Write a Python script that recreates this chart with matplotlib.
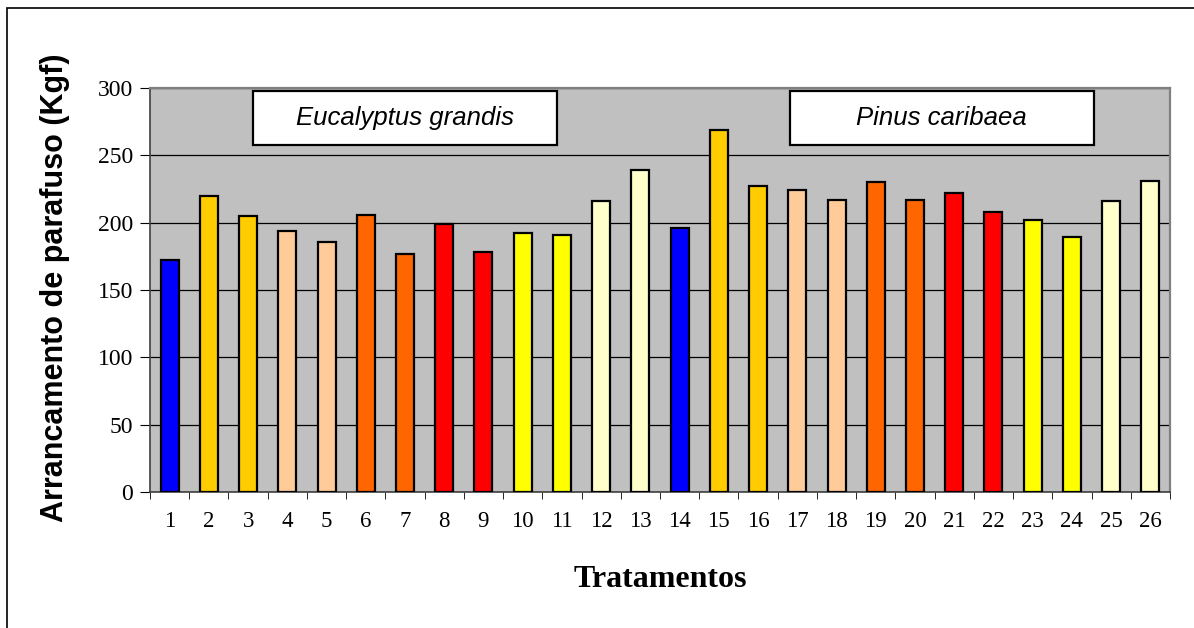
import matplotlib
matplotlib.use("Agg")
import matplotlib.pyplot as plt
import matplotlib.patches as mpatches
import numpy as np

# dados
tratamentos = [str(i) for i in range(1, 27)]
arrancamento = [172, 220, 205, 194, 186, 206, 177, 199, 178, 192, 191, 216, 239,
                196, 269, 227, 224, 217, 230, 217, 222, 208, 202, 189, 216, 231]
cores = ["#0000FF", "#FFCC00", "#FFCC00", "#FFCC99", "#FFCC99", "#FF6600", "#FF6600",
         "#FF0000", "#FF0000", "#FFFF00", "#FFFF00", "#FFFFCC", "#FFFFCC"] * 2
especies = ["Eucalyptus grandis", "Pinus caribaea"]

fig = plt.figure(figsize=(11.94, 6.28), dpi=100)
ax = fig.add_axes([150/1194, 1 - 492/628, 1020/1194, 404/628])

# moldura da figura (só esquerda e topo aparecem)
fig.patches.append(mpatches.Rectangle((7/1194, -0.05), 1.1, 1 - 8/628 + 0.05,
                                      transform=fig.transFigure, fill=False,
                                      edgecolor="black", linewidth=1.2))

x = np.arange(len(tratamentos))
ax.bar(x, arrancamento, 0.46, color=cores, edgecolor="black", linewidth=1.6, zorder=3)

ax.set_facecolor("#C0C0C0")
ax.set_xlim(-0.5, len(tratamentos) - 0.5)
ax.set_ylim(0, 300)
ax.set_yticks(range(0, 301, 50))
ax.yaxis.grid(True, color="black", linewidth=0.9, zorder=1)
ax.set_axisbelow(True)

ax.set_xticks(x)
ax.set_xticklabels(tratamentos, fontsize=16.5, family="Liberation Serif")
ax.set_xticks(np.arange(-0.5, len(tratamentos)), minor=True)
ax.tick_params(axis="x", which="major", length=0, pad=14)
ax.tick_params(axis="x", which="minor", length=5, direction="out", color="black")
ax.tick_params(axis="y", length=7, direction="out", labelsize=17, pad=5)
for lbl in ax.get_yticklabels():
    lbl.set_family("Liberation Serif")

for s in ["top", "right"]:
    ax.spines[s].set_color("#808080")
    ax.spines[s].set_linewidth(1.6)
for s in ["left", "bottom"]:
    ax.spines[s].set_color("#404040")
    ax.spines[s].set_linewidth(1.2)

ax.set_ylabel("Arrancamento de parafuso (Kgf)", fontsize=22, fontweight="bold",
              family="Liberation Sans")
ax.yaxis.set_label_coords(-0.078, 0.505)
ax.set_xlabel("Tratamentos", fontsize=23, fontweight="bold", family="Liberation Serif")
ax.xaxis.set_label_coords(0.5, -0.18)

# caixas com o nome das espécies
caixas = [(0.101, 0.399), (0.627, 0.925)]
for (x0, x1), nome in zip(caixas, especies):
    ax.add_patch(mpatches.Rectangle((x0, 0.859), x1 - x0, 0.133, transform=ax.transAxes,
                                    facecolor="white", edgecolor="black",
                                    linewidth=1.6, zorder=5))
    ax.text((x0 + x1) / 2, 0.926, nome, transform=ax.transAxes, ha="center",
            va="center", fontsize=18.5, style="italic", family="Liberation Sans", zorder=6)

fig.savefig("out.png", dpi=100)
